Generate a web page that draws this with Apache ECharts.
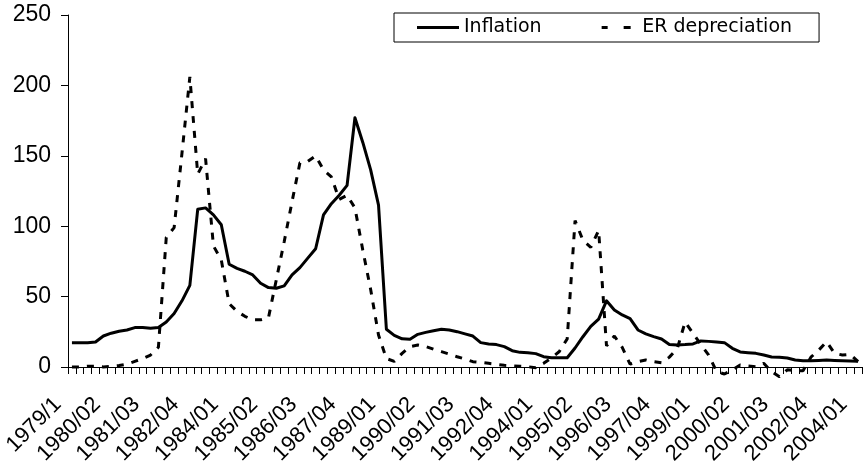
<!DOCTYPE html>
<html>
<head>
<meta charset="utf-8">
<script src="https://cdn.jsdelivr.net/npm/echarts@6/dist/echarts.min.js"></script>
<style>
html,body{margin:0;padding:0;background:#fff;}
#chart{width:865px;height:470px;}
</style>
</head>
<body>
<div id="chart"></div>
<script>
// Quarterly categories 1979Q1 .. 2004Q1
var categories = [
 "1979/1","1979/02","1979/03","1979/04",
 "1980/01","1980/02","1980/03","1980/04",
 "1981/01","1981/02","1981/03","1981/04",
 "1982/01","1982/02","1982/03","1982/04",
 "1983/01","1983/02","1983/03","1983/04",
 "1984/01","1984/02","1984/03","1984/04",
 "1985/01","1985/02","1985/03","1985/04",
 "1986/01","1986/02","1986/03","1986/04",
 "1987/01","1987/02","1987/03","1987/04",
 "1988/01","1988/02","1988/03","1988/04",
 "1989/01","1989/02","1989/03","1989/04",
 "1990/01","1990/02","1990/03","1990/04",
 "1991/01","1991/02","1991/03","1991/04",
 "1992/01","1992/02","1992/03","1992/04",
 "1993/01","1993/02","1993/03","1993/04",
 "1994/01","1994/02","1994/03","1994/04",
 "1995/01","1995/02","1995/03","1995/04",
 "1996/01","1996/02","1996/03","1996/04",
 "1997/01","1997/02","1997/03","1997/04",
 "1998/01","1998/02","1998/03","1998/04",
 "1999/01","1999/02","1999/03","1999/04",
 "2000/01","2000/02","2000/03","2000/04",
 "2001/01","2001/02","2001/03","2001/04",
 "2002/01","2002/02","2002/03","2002/04",
 "2003/01","2003/02","2003/03","2003/04",
 "2004/01"
];

var inflation = [
 17.3,17.3,17.3,17.8,22,24,25.4,26.3,28,28,
 27.5,28,32,38,47,58,112,113,108,101,
 73,70,68,65.4,59.5,56.4,55.9,57.6,65.4,70.6,
 77.3,84,108,116,122,129,177,159.5,140,115,
 26.8,22.5,20,19.7,23.2,24.6,25.8,26.8,26.3,25.1,
 23.5,22,17.3,16.4,15.9,14.5,11.6,10.4,10.2,9.5,
 7.3,6.6,6.6,6.6,13.5,21.5,28.8,34,47,40.5,
 37,34.4,26.3,23.5,21.6,19.9,16,15.6,15.9,16.4,
 18.5,18.2,17.8,17.3,13.3,10.7,10.2,9.7,8.5,7.1,
 6.9,6.4,5,4.5,4.5,4.7,5,4.7,4.5,4.3,
 4
];

var erDepreciation = [
 0,0,0.5,0.5,0,0.5,1,2,4,6,
 8.5,14,92,99,152,206,137,148,86,76,
 45,39.5,36,33.5,33.5,35,62,89,117.5,145,
 146,150,140,135,119,122,113,83,55,22.7,
 6,4,9.7,14.5,15.6,14.5,12.6,10.9,9.2,7.3,
 5.7,3.8,3.3,2.6,1.9,1.2,0.9,0.5,0.2,-0.5,
 2.6,6.5,11,20,104,90,85,97,15,22,
 14,2,3.8,5,3.8,3,7,13,32,24,
 16,8.5,-3.3,-5,-2,1.4,0.7,0.2,2.6,-3.3,
 -7,-2,-2.6,-2.6,7,12,18,9.7,8.5,9,
 3.8
];

var yTicks = { min: 0, max: 250, interval: 50 };

var chart = echarts.init(document.getElementById('chart'), null, { renderer: 'canvas' });
var axisFont = "'Liberation Sans', Arial, sans-serif";

chart.setOption({
  backgroundColor: '#ffffff',
  animation: false,
  grid: { left: 68, right: 3, top: 15, bottom: 103, containLabel: false },
  legend: {
    left: 394,
    top: 13,
    orient: 'horizontal',
    padding: [5, 27, 5, 23],
    borderColor: '#000',
    borderWidth: 1,
    itemWidth: 42,
    itemHeight: 3,
    itemGap: 60,
    textStyle: { fontFamily: "'DejaVu Sans'", fontSize: 19, color: '#000', lineHeight: 18 },
    data: [
      { name: 'Inflation', icon: 'path://M0,0H42V3H0Z' },
      { name: 'ER depreciation', icon: 'path://M0,0H6V3H0ZM22,0H29V3H22Z' }
    ]
  },
  xAxis: {
    type: 'category',
    data: categories,
    boundaryGap: true,
    axisLine: { show: true, lineStyle: { color: '#000', width: 1 } },
    axisTick: { show: true, interval: 0, length: 7, lineStyle: { color: '#000', width: 1 } },
    axisLabel: {
      interval: 4,
      rotate: 45,
      margin: 20,
      padding: [0, 20, 0, 0],
      color: '#000',
      fontSize: 22,
      fontFamily: axisFont
    },
    splitLine: { show: false }
  },
  yAxis: {
    type: 'value',
    min: yTicks.min,
    max: yTicks.max,
    interval: yTicks.interval,
    axisLine: { show: true, lineStyle: { color: '#000', width: 1 } },
    axisTick: { show: true, length: 7, lineStyle: { color: '#000', width: 1 } },
    axisLabel: { color: '#000', fontSize: 23, fontFamily: axisFont, margin: 17 },
    splitLine: { show: false }
  },
  series: [
    {
      name: 'Inflation',
      type: 'line',
      data: inflation,
      showSymbol: false,
      symbol: 'none',
      clip: false,
      color: '#000',
      lineStyle: { color: '#000', width: 3, join: 'round' },
      z: 2
    },
    {
      name: 'ER depreciation',
      type: 'line',
      data: erDepreciation,
      showSymbol: false,
      symbol: 'none',
      clip: false,
      color: '#000',
      lineStyle: { color: '#000', width: 3, type: [7, 8], cap: 'butt' },
      z: 3
    }
  ]
});
</script>
</body>
</html>
